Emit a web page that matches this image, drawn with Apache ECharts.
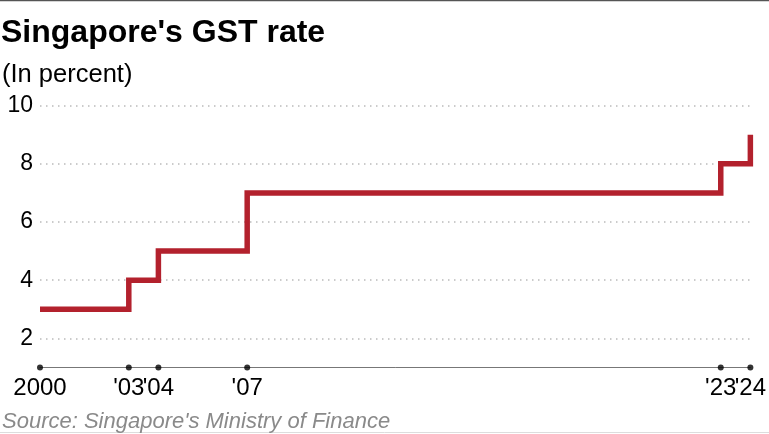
<!DOCTYPE html>
<html>
<head>
<meta charset="utf-8">
<script src="https://cdn.jsdelivr.net/npm/echarts@6/dist/echarts.min.js"></script>
<style>
html,body{margin:0;padding:0;background:#fff;}
#c{width:769px;height:434px;}
</style>
</head>
<body>
<div id="c"></div>
<script>
const axisYears = ['2000','2001','2002','2003','2004','2005','2006','2007','2008','2009','2010','2011','2012',
                   '2013','2014','2015','2016','2017','2018','2019','2020','2021','2022','2023','2024'];
const years = ['2000', '2003', '2004', '2007', '2023', '2024'];
const rates = [3, 4, 5, 7, 8, 9];
const tickLabels = ['2000', "'03", "'04", "'07", "'23", "'24"];
const axisBaseValue = 1;

const chart = echarts.init(document.getElementById('c'), null, {renderer: 'canvas'});
const FONT = '"Liberation Sans", Arial, sans-serif';
const gridTop = 105.7, gridBottom = 37.5;
const unitPx = (434 - gridTop - gridBottom) / 10;

chart.setOption({
  animation: false,
  backgroundColor: '#fff',
  textStyle: {fontFamily: FONT},
  title: [
    {text: "Singapore's GST rate", left: 1, top: 17, padding: 0,
     textStyle: {fontFamily: FONT, fontSize: 32, fontWeight: 'bold', color: '#000'}},
    {text: '(In percent)', left: 2, top: 62, padding: 0,
     textStyle: {fontFamily: FONT, fontSize: 25.5, fontWeight: 'normal', color: '#000'}},
    {text: "Source: Singapore's Ministry of Finance", left: 2, top: 411, padding: 0,
     textStyle: {fontFamily: FONT, fontSize: 22, fontStyle: 'italic', fontWeight: 'normal', color: '#8a8a8a'}}
  ],
  graphic: [
    {type: 'line', shape: {x1: 0, y1: 0.5, x2: 769, y2: 0.5}, style: {stroke: '#555', lineWidth: 1.5}},
    {type: 'line', shape: {x1: 0, y1: 432.5, x2: 769, y2: 432.5}, style: {stroke: '#ddd', lineWidth: 1}}
  ],
  grid: {left: 40, right: 18.3, top: gridTop, bottom: gridBottom},
  xAxis: {
    type: 'category', data: axisYears, boundaryGap: false,
    offset: -unitPx * axisBaseValue,
    axisLine: {show: true, onZero: false, lineStyle: {color: '#777', width: 1}},
    axisTick: {show: false},
    splitLine: {show: false},
    axisLabel: {
      show: true, interval: 0, margin: 9, fontSize: 24, color: '#000', fontFamily: FONT,
      hideOverlap: false,
      formatter: function (v) { const i = years.indexOf(v); return i >= 0 ? tickLabels[i] : ''; }
    }
  },
  yAxis: {
    type: 'value', min: 0, max: 10, interval: 2,
    axisLine: {show: false}, axisTick: {show: false},
    axisLabel: {fontSize: 23, color: '#000', margin: 7, fontFamily: FONT, showMinLabel: false,
      formatter: function (v) { return v === 0 ? '' : String(v); }},
    splitLine: {show: true, showMinLine: false, lineStyle: {color: '#bbb', type: [1.5, 4.5], width: 1.5}}
  },
  series: [
    {
      type: 'line', step: 'end',
      data: years.map((y, i) => [y, rates[i]]),
      showSymbol: false, symbol: 'none',
      lineStyle: {color: '#b3212d', width: 5.5, join: 'miter', cap: 'butt'},
      z: 3
    },
    {
      type: 'scatter',
      data: years.map(y => [y, axisBaseValue]),
      symbol: 'circle', symbolSize: 6,
      itemStyle: {color: '#000'},
      z: 4
    }
  ]
});
</script>
</body>
</html>
